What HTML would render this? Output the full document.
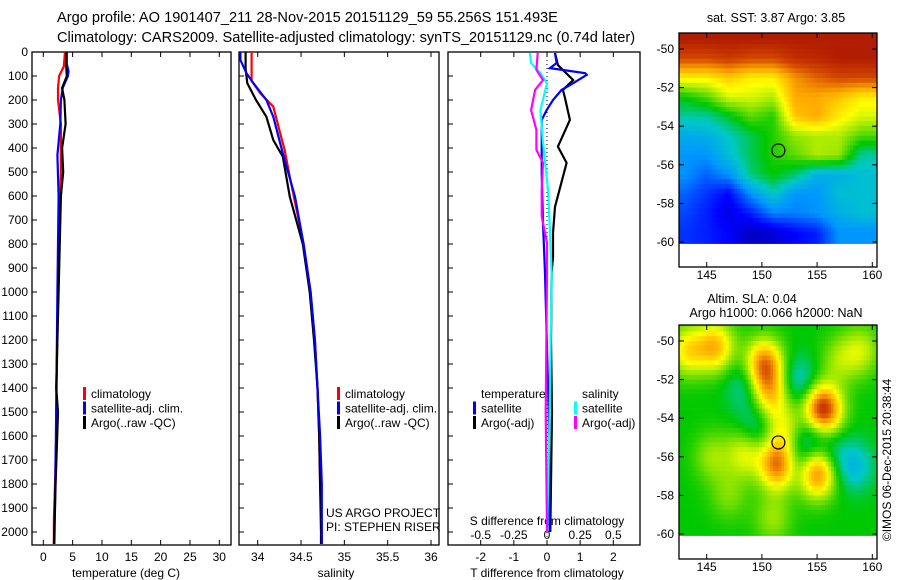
<!DOCTYPE html>
<html><head><meta charset="utf-8"><style>
html,body{margin:0;padding:0;background:#fff}
svg{display:block;font-family:"Liberation Sans",sans-serif}
text{fill:#000}
</style></head><body>
<svg id="s" width="900" height="580" viewBox="0 0 900 580" xmlns="http://www.w3.org/2000/svg">
<text x="57" y="22" font-size="14.6">Argo profile: AO 1901407_211 28-Nov-2015 20151129_59 55.256S 151.493E</text>
<text x="57" y="42" font-size="14.6">Climatology: CARS2009. Satellite-adjusted climatology: synTS_20151129.nc (0.74d later)</text>
<g id="g"></g>
<text x="776" y="22" font-size="12.5" text-anchor="middle">sat. SST: 3.87 Argo: 3.85</text>
<text x="752" y="303" font-size="12.5" text-anchor="middle">Altim. SLA: 0.04</text>
<text x="776" y="317" font-size="12.5" text-anchor="middle">Argo h1000: 0.066 h2000: NaN</text>
<text transform="translate(891,460) rotate(-90)" font-size="12" text-anchor="middle">©IMOS 06-Dec-2015 20:38:44</text>
<text x="326" y="517" font-size="12">US ARGO PROJECT</text>
<text x="326" y="531" font-size="12">PI: STEPHEN RISER</text>
</svg>
<script>
// ---- data ----
const depthTicks=[0,100,200,300,400,500,600,700,800,900,1000,1100,1200,1300,1400,1500,1600,1700,1800,1900,2000];
const tTicks=[0,5,10,15,20,25,30];
const sTicks=[34,34.5,35,35.5,36];
const sTickLabels=["34","34.5","35","35.5","36"];
const dTTicks=[-2,-1,0,1,2];
const dSTicks=[-0.5,-0.25,0,0.25,0.5];
const dSTickLabels=["-0.5","-0.25","0","0.25","0.5"];

const climTD=[0,60,100,150,200,300,500,800,1000,1500,1600,1800,1950,2050];
const climT=[3.7,3.5,2.7,2.5,2.5,3.0,3.0,2.6,2.5,2.2,2.2,2.0,1.8,1.8];
const satTD=[0,50,80,100,150,200,300,430,600,1000,1500,1900,2050];
const satT=[4.0,4.0,4.3,4.2,3.3,3.0,2.9,2.4,2.6,2.4,2.2,2.0,1.9];
const argoTD=[0,60,100,150,200,300,400,500,600,1000,1400,1500,1800,2050];
const argoT=[3.9,3.9,4.0,3.2,3.6,3.8,3.2,3.4,3.0,2.6,2.2,2.5,2.1,1.8];

const climSD=[0,120,172,228,339,408,520,800,1000,1200,1400,1600,1800,2000,2050];
const climS=[33.93,33.93,34.03,34.18,34.26,34.31,34.37,34.53,34.61,34.66,34.69,34.71,34.72,34.74,34.74];
const satSD=[0,33,88,130,200,270,422,603,800,1000,1200,1400,1600,1800,2000,2050];
const satS=[33.8,33.8,33.87,33.95,34.1,34.18,34.29,34.43,34.53,34.61,34.66,34.69,34.72,34.74,34.74,34.74];
const argoSD=[0,70,130,200,270,367,436,603,800,1000,1200,1400,1600,1800,2000,2050];
const argoS=[33.86,33.86,33.88,33.98,34.1,34.18,34.29,34.37,34.52,34.6,34.65,34.69,34.71,34.72,34.73,34.73];

const dTsatD=[4,46,67,88,95,130,158,200,242,283,504,713,921,1500,2000];
const dTsat=[0.24,0.29,0.09,1.15,1.2,0.79,0.44,0.18,-0.01,-0.16,-0.16,-0.12,-0.06,0.05,0.08];
const dTargoD=[4,54,117,158,190,283,394,462,645,754,854,921,1200,1500,2000];
const dTargo=[0.24,0.33,0.79,0.48,0.54,0.69,0.33,0.59,0.24,0.18,0.18,0.14,0.12,0.15,0.1];
const dSsatD=[4,46,88,130,242,378,587,921,1500,2000];
const dSsat=[-0.13,-0.12,-0.05,0,-0.05,-0.03,0.01,0.035,0.02,0];
const dSargoD=[4,74,117,158,242,325,408,462,573,685,796,921,1500,2000];
const dSargo=[-0.07,-0.08,-0.03,-0.09,-0.12,-0.08,-0.08,-0.03,-0.04,-0.04,0,0,-0.01,0];

const lonTicks=[145,150,155,160];
const latTicks=[-50,-52,-54,-56,-58,-60];
const sstLons=[143,145,147,149,151,153,155,157,159];
const sstLats=[-49.5,-50.5,-51.5,-52.5,-53.5,-54.5,-55.5,-56.5,-57.5,-58.5,-59.5];
const sstGrid=[
[0.95,0.95,0.95,0.95,0.95,0.95,0.95,0.95,0.95],
[0.88,0.88,0.9,0.88,0.88,0.92,0.93,0.95,0.95],
[0.7,0.7,0.74,0.7,0.7,0.8,0.85,0.88,0.88],
[0.5,0.55,0.65,0.65,0.62,0.78,0.78,0.75,0.7],
[0.42,0.42,0.48,0.56,0.52,0.75,0.78,0.7,0.65],
[0.34,0.35,0.4,0.46,0.52,0.6,0.62,0.62,0.55],
[0.3,0.3,0.38,0.46,0.52,0.56,0.62,0.6,0.42],
[0.3,0.25,0.3,0.44,0.5,0.45,0.35,0.35,0.38],
[0.25,0.2,0.15,0.3,0.4,0.3,0.3,0.38,0.38],
[0.22,0.18,0.12,0.18,0.28,0.28,0.3,0.35,0.38],
[0.2,0.18,0.15,0.08,0.1,0.15,0.18,0.3,0.3]];
const slaLon=[145.8,143.3,150.2,151,155.5,151.5,148.5,155,152,159,157,145.5,151,153.3,148.5,149.5,154.7,153.3,158.5,156.5,147,150.5];
const slaLat=[-50.3,-50.5,-51.2,-53,-53.6,-56.4,-55.8,-56.8,-54.6,-50.5,-51,-56,-59.2,-52.1,-52.3,-54.5,-54.8,-56.2,-56.5,-56,-58,-52.5];
const slaVal=[0.75,0.7,0.82,0.62,0.95,0.85,0.66,0.85,0.64,0.63,0.6,0.6,0.6,0.38,0.4,0.4,0.37,0.37,0.38,0.42,0.58,0.62];
const argoLon=151.493, argoLat=-55.256;

// ---- drawing ----
const NS='http://www.w3.org/2000/svg';
const G=document.getElementById('g');
function mk(tag,attrs,parent){const e=document.createElementNS(NS,tag);for(const k in attrs)e.setAttribute(k,attrs[k]);(parent||G).appendChild(e);return e;}
const Y0=52, PY=0.24;
const yD=d=>Y0+d*PY;
function axisScale(v0,p0,v1,p1){return v=>p0+(v-v0)*(p1-p0)/(v1-v0);}
const xT=axisScale(0,43.3,30,219.3);
const xS=axisScale(34,257.7,36,431);
const xDT=axisScale(-2,480.7,2,613.3);
const xDS=axisScale(-0.5,480.7,0.5,613.3);

function frame(x0,x1,y0,y1,name){
  const r=mk('rect',{x:x0,y:y0,width:x1-x0,height:y1-y0,fill:'none',stroke:'#000','stroke-width':1.3});
  
  
}
function line(pts,color,name){
  const p=mk('polyline',{points:pts.map(q=>q[0].toFixed(1)+','+q[1].toFixed(1)).join(' '),fill:'none',stroke:color,'stroke-width':2.2});
  
  
}
function txt(x,y,s,anchor,size,name){
  const t=mk('text',{x:x,y:y,'text-anchor':anchor||'start','font-size':size||12});
  t.textContent=s;
  
  
  return t;
}
const BOT=545;
const panels=[[32,231],[239,439],[448,640]];
panels.forEach((p,i)=>{
  frame(p[0],p[1],Y0,BOT,'profile-panel-'+(i+1));
  depthTicks.forEach(d=>{
    mk('line',{x1:p[0],x2:p[0]+5,y1:yD(d),y2:yD(d),stroke:'#000'});
  });
});
depthTicks.forEach(d=>{txt(28,yD(d)+4,String(d),'end',12,'depth-tick-label');});
tTicks.forEach(v=>{
  mk('line',{x1:xT(v),x2:xT(v),y1:BOT,y2:BOT-5,stroke:'#000'});
  mk('line',{x1:xT(v),x2:xT(v),y1:Y0,y2:Y0+5,stroke:'#000'});
  txt(xT(v),561,String(v),'middle',12,'temperature-tick-label');
});
txt(126,577,'temperature (deg C)','middle',12,'temperature-axis-title');
sTicks.forEach((v,i)=>{
  mk('line',{x1:xS(v),x2:xS(v),y1:BOT,y2:BOT-5,stroke:'#000'});
  mk('line',{x1:xS(v),x2:xS(v),y1:Y0,y2:Y0+5,stroke:'#000'});
  txt(xS(v),561,sTickLabels[i],'middle',12,'salinity-tick-label');
});
txt(336,577,'salinity','middle',12,'salinity-axis-title');
dTTicks.forEach(v=>{
  mk('line',{x1:xDT(v),x2:xDT(v),y1:BOT,y2:BOT-5,stroke:'#000'});
  mk('line',{x1:xDT(v),x2:xDT(v),y1:Y0,y2:Y0+5,stroke:'#000'});
  txt(xDT(v),561,String(v),'middle',12,'t-diff-tick-label');
});
dSTicks.forEach((v,i)=>{txt(xDS(v),539,dSTickLabels[i],'middle',12,'s-diff-tick-label');});
txt(547,525,'S difference from climatology','middle',12,'s-diff-axis-title');
txt(547,577,'T difference from climatology','middle',12,'t-diff-axis-title');
mk('line',{x1:xDT(0),x2:xDT(0),y1:Y0,y2:BOT,stroke:'#000','stroke-dasharray':'1,3'});

function series(D,V,sx,color,name){line(D.map((d,i)=>[sx(V[i]),yD(d)]),color,name);}
series(climTD,climT,xT,'#ff0000','temp-climatology-line');
series(satTD,satT,xT,'#0000ff','temp-satellite-line');
series(argoTD,argoT,xT,'#000000','temp-argo-line');
series(climSD,climS,xS,'#ff0000','sal-climatology-line');
series(argoSD,argoS,xS,'#000000','sal-argo-line');
series(satSD,satS,xS,'#0000ff','sal-satellite-line');
series(dTargoD,dTargo,xDT,'#000000','tdiff-argo-line');
series(dTsatD,dTsat,xDT,'#0000ff','tdiff-satellite-line');
series(dSsatD,dSsat,xDS,'#00ffff','sdiff-satellite-line');
series(dSargoD,dSargo,xDS,'#ff00ff','sdiff-argo-line');

function legend(x,y,items,prefix){
  items.forEach((it,i)=>{
    const yy=y+i*14.5;
    if(it[1]) mk('rect',{x:x,y:yy-10,width:3,height:13,fill:it[1]});
    txt(x+8,yy+1,it[0],'start',12,prefix+'-legend-entry');
  });
}
legend(83,397,[['climatology','#ff0000'],['satellite-adj. clim.','#0000ff'],['Argo(..raw -QC)','#000']],'temp');
legend(337,397,[['climatology','#ff0000'],['satellite-adj. clim.','#0000ff'],['Argo(..raw -QC)','#000']],'sal');
legend(473,397,[['temperature',null],['satellite','#0000ff'],['Argo(-adj)','#000']],'tdiff');
legend(574,397,[['salinity',null],['satellite','#00ffff'],['Argo(-adj)','#ff00ff']],'sdiff');

// ---- maps ----
const stops=[[0,[0,0,127]],[0.15,[0,0,255]],[0.3,[0,150,255]],[0.4,[0,200,200]],[0.5,[0,200,0]],[0.6,[150,230,0]],[0.68,[255,255,0]],[0.78,[255,170,0]],[0.88,[210,70,0]],[1,[154,0,0]]];
function cmap(v){v=Math.max(0,Math.min(1,v));for(let i=1;i<stops.length;i++){if(v<=stops[i][0]){const a=stops[i-1],b=stops[i],f=(v-a[0])/(b[0]-a[0]);return 'rgb('+a[1].map((c,k)=>Math.round(c+(b[1][k]-c)*f)).join(',')+')';}}return 'rgb(154,0,0)';}
const MX0=679,MX1=877,LON0=142.5,LON1=160.4;
const mLon=axisScale(145,706.7,160,872.3);
function mapPanel(top,name,valFn){
  const mLat=axisScale(-50,top+16,-60,top+209);
  const frameB=top+234;
  const grp=mk('g',{});
  
  
  const dl=0.25, dla=0.25;
  for(let la=-49.0;la>-60.1;la-=dla){
    for(let lo=LON0;lo<LON1;lo+=dl){
      const x=mLon(lo),y=mLat(la);
      const w=mLon(lo+dl)-x+0.4,h=mLat(la-dla)-y+0.4;
      const yc=Math.max(y,top), yb=Math.min(y+h,mLat(-60.1));
      if(yb<=yc) continue;
      mk('rect',{x:x.toFixed(1),y:yc.toFixed(1),width:Math.min(w,MX1-x).toFixed(1),height:(yb-yc).toFixed(1),fill:cmap(valFn(lo+dl/2,la-dla/2))},grp);
    }
  }
  frame(MX0,MX1,top,frameB,name+'-frame');
  latTicks.forEach(l=>{
    mk('line',{x1:MX0,x2:MX0+5,y1:mLat(l),y2:mLat(l),stroke:'#000'});
    mk('line',{x1:MX1,x2:MX1-5,y1:mLat(l),y2:mLat(l),stroke:'#000'});
    txt(674,mLat(l)+4,String(l),'end',12,name+'-lat-label');
  });
  lonTicks.forEach(l=>{
    mk('line',{x1:mLon(l),x2:mLon(l),y1:frameB,y2:frameB-5,stroke:'#000'});
    mk('line',{x1:mLon(l),x2:mLon(l),y1:top,y2:top+5,stroke:'#000'});
    txt(mLon(l),frameB+12,String(l),'middle',12,name+'-lon-label');
  });
  const c=mk('circle',{cx:mLon(argoLon),cy:mLat(argoLat),r:6.5,fill:'none',stroke:'#000','stroke-width':1.2});
  
  
}
function sstVal(lo,la){
  const fi=Math.max(0,Math.min(sstLats.length-1.001,(sstLats[0]-la)));
  const fj=Math.max(0,Math.min(sstLons.length-1.001,(lo-sstLons[0])/2));
  const i=Math.floor(fi),j=Math.floor(fj),a=fi-i,b=fj-j;
  return sstGrid[i][j]*(1-a)*(1-b)+sstGrid[i+1][j]*a*(1-b)+sstGrid[i][j+1]*(1-a)*b+sstGrid[i+1][j+1]*a*b;
}
function slaV(lo,la){
  let v=0.5;
  for(let k=0;k<slaLon.length;k++){
    const dx=(lo-slaLon[k])/1.7,dy=(la-slaLat[k])/1.3;
    v+=(slaVal[k]-0.5)*Math.exp(-(dx*dx+dy*dy));
  }
  return v;
}
mapPanel(33,'sst-map',sstVal);
mapPanel(325,'sla-map',slaV);
</script>
</body></html>
